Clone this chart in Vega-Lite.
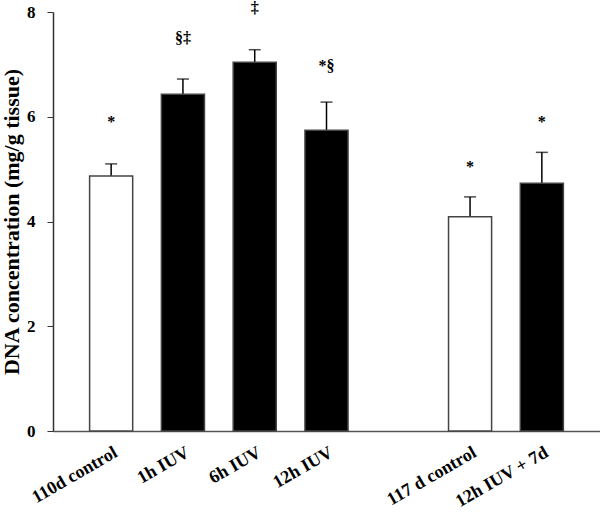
{
  "$schema": "https://vega.github.io/schema/vega-lite/v6.json",
  "width": 547,
  "height": 419,
  "autosize": {"type": "none"},
  "padding": {"left": 53, "top": 12, "right": 0, "bottom": 81},
  "background": "white",
  "config": {
    "view": {"stroke": null},
    "font": "Liberation Serif"
  },
  "data": {
    "values": [
      {"group": "110d control", "value": 4.87, "err": 5.10, "sig": "*", "sigY": 5.9, "kind": "control"},
      {"group": "1h IUV", "value": 6.43, "err": 6.72, "sig": "§‡", "sigY": 7.5, "kind": "iuv"},
      {"group": "6h IUV", "value": 7.04, "err": 7.28, "sig": "‡", "sigY": 8.08, "kind": "iuv"},
      {"group": "12h IUV", "value": 5.74, "err": 6.28, "sig": "*§", "sigY": 6.97, "kind": "iuv"},
      {"group": "117 d control", "value": 4.09, "err": 4.47, "sig": "*", "sigY": 5.04, "kind": "control"},
      {"group": "12h IUV + 7d", "value": 4.73, "err": 5.32, "sig": "*", "sigY": 5.9, "kind": "iuv"}
    ]
  },
  "encoding": {
    "x": {
      "field": "group",
      "type": "nominal",
      "sort": null,
      "scale": {
        "domain": ["110d control", "1h IUV", "6h IUV", "12h IUV", "gap", "117 d control", "12h IUV + 7d"],
        "paddingInner": 0.4,
        "paddingOuter": 0.51
      },
      "axis": {
        "title": null,
        "labelExpr": "datum.value == 'gap' ? '' : datum.value",
        "labelAngle": -30,
        "labelAlign": "right",
        "labelBaseline": "middle",
        "labelFont": "Liberation Serif",
        "labelFontWeight": "bold",
        "labelFontSize": 18,
        "labelColor": "black",
        "labelPadding": 20,
        "labelOffset": 5,
        "labelOverlap": false,
        "ticks": false,
        "domainColor": "#555555",
        "domainWidth": 1.5,
        "grid": false
      }
    }
  },
  "layer": [
    {
      "mark": {"type": "rule", "color": "black", "strokeWidth": 1.5},
      "encoding": {
        "y": {"field": "value", "type": "quantitative"},
        "y2": {"field": "err"}
      }
    },
    {
      "mark": {"type": "tick", "color": "black", "size": 12, "thickness": 1.5, "orient": "horizontal"},
      "encoding": {
        "y": {"field": "err", "type": "quantitative"}
      }
    },
    {
      "mark": {"type": "bar", "strokeWidth": 1.5, "stroke": "#444444"},
      "encoding": {
        "y": {
          "field": "value",
          "type": "quantitative",
          "scale": {"domain": [0, 8], "nice": false},
          "axis": {
            "title": "DNA concentration (mg/g tissue)",
            "titleFont": "Liberation Serif",
            "titleFontWeight": "bold",
            "titleFontSize": 22,
            "titleColor": "black",
            "titlePadding": 3,
            "values": [0, 2, 4, 6, 8],
            "labelFont": "Liberation Serif",
            "labelFontWeight": "bold",
            "labelFontSize": 17,
            "labelColor": "black",
            "labelPadding": 12,
            "tickSize": 6,
            "tickColor": "#333333",
            "domainColor": "#333333",
            "domainWidth": 1.5,
            "grid": false
          }
        },
        "fill": {
          "field": "kind",
          "type": "nominal",
          "scale": {"domain": ["control", "iuv"], "range": ["white", "black"]},
          "legend": null
        }
      }
    },
    {
      "mark": {"type": "text", "fontWeight": "bold", "fontSize": 16, "font": "Liberation Serif", "color": "black", "baseline": "middle"},
      "encoding": {
        "y": {"field": "sigY", "type": "quantitative"},
        "text": {"field": "sig"}
      }
    }
  ]
}
